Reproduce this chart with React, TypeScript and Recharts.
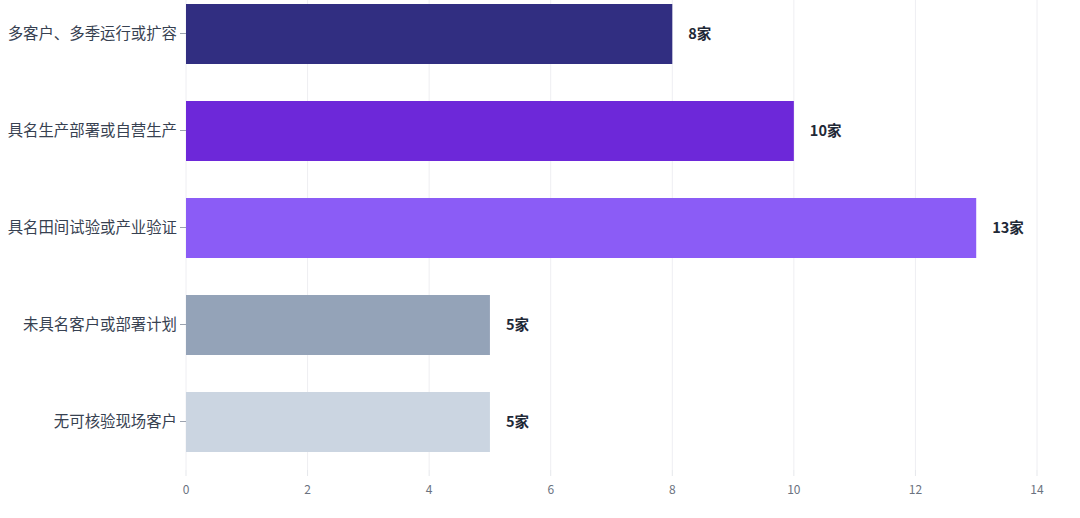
import { BarChart, Bar, XAxis, YAxis, CartesianGrid, Cell, LabelList } from "recharts";

const categories = [
  "多客户、多季运行或扩容",
  "具名生产部署或自营生产",
  "具名田间试验或产业验证",
  "未具名客户或部署计划",
  "无可核验现场客户",
];
const counts = [8, 10, 13, 5, 5];
const barColors = ["#312e81", "#6d28d9", "#8b5cf6", "#94a3b8", "#cbd5e1"];
const xTicks = [0, 2, 4, 6, 8, 10, 12, 14];

const data = categories.map((name, i) => ({ name, value: counts[i] }));

const font = "'Noto Sans CJK SC', 'Noto Sans', sans-serif";

export default function App() {
  return (
    <div style={{ position: "absolute", left: 0, top: 0, width: 1080, height: 518, overflow: "hidden", background: "#fff" }}>
      <div style={{ marginTop: -15 }}>
        <BarChart
          width={1080}
          height={533}
          data={data}
          layout="vertical"
          margin={{ top: 0, right: 43, bottom: 18, left: 0 }}
          style={{ fontFamily: font }}
        >
          <CartesianGrid horizontal={false} stroke="#eeeef2" />
          <XAxis
            type="number"
            domain={[0, 14]}
            ticks={xTicks}
            axisLine={false}
            tickLine={{ stroke: "#e5e7eb" }}
            tick={{ fill: "#6b7280", fontSize: 12 }}
            tickMargin={9}
            height={30}
          />
          <YAxis
            type="category"
            dataKey="name"
            width={186}
            axisLine={false}
            tickLine={{ stroke: "#9ca3af" }}
            tick={{ fill: "#374151", fontSize: 15.4 }}
            tickSize={6}
            tickMargin={3}
          />
          <Bar dataKey="value" barSize={60} isAnimationActive={false}>
            {data.map((d, i) => (
              <Cell key={d.name} fill={barColors[i]} />
            ))}
            <LabelList
              dataKey="value"
              position="right"
              offset={16}
              formatter={(v: number) => `${v}家`}
              style={{ fill: "#1f2937", fontSize: 14.5, fontWeight: 700 }}
            />
          </Bar>
        </BarChart>
      </div>
    </div>
  );
}
